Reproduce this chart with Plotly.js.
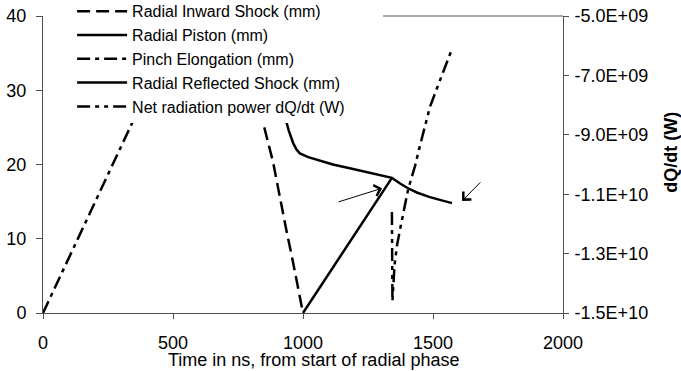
<!DOCTYPE html>
<html>
<head>
<meta charset="utf-8">
<script src="https://cdn.plot.ly/plotly-3.0.1.min.js"></script>
<style>html,body{margin:0;padding:0;background:#fff;}#chart{width:681px;height:371px;}</style>
</head>
<body>
<div id="chart"></div>
<script>
// ---- data ----
const seriesNames = ["Radial Inward Shock (mm)", "Radial Piston (mm)", "Pinch Elongation (mm)", "Radial Reflected Shock (mm)", "Net radiation power dQ/dt (W)"];

const shockT  = [820, 846, 885, 912, 938, 958, 1000];
const shockMm = [30.0, 25.7, 20.3, 15.2, 10.8, 7.5, 0];

const pistonT  = [925, 931, 945, 962, 975, 988, 1020, 1060, 1115, 1180, 1246, 1300, 1342, 1375, 1404, 1440, 1488, 1530, 1573];
const pistonMm = [28.0, 26.4, 24.6, 22.9, 22.0, 21.5, 21.0, 20.6, 20.0, 19.5, 19.0, 18.6, 18.2, 17.4, 16.8, 16.2, 15.6, 15.2, 14.8];

const elongT  = [0, 540];
const elongMm = [0, 40.3];

const reflT  = [1000, 1342];
const reflMm = [0, 18.2];

const radT = [1342, 1344, 1352, 1362, 1373, 1385, 1395, 1404, 1419, 1431, 1446, 1462, 1477, 1488, 1508, 1527, 1554, 1573];
const radW = [-1.16e10, -1.46e10, -1.34e10, -1.27e10, -1.22e10, -1.17e10, -1.12e10, -1.085e10, -1.04e10, -1.005e10, -9.5e9, -8.95e9, -8.45e9, -8.07e9, -7.6e9, -7.16e9, -6.49e9, -6.11e9];

const xTicks = [0, 500, 1000, 1500, 2000];
const yTicks = [0, 10, 20, 30, 40];
const y2Ticks = [-5e9, -7e9, -9e9, -1.1e10, -1.3e10, -1.5e10];
const y2TickText = ["-5.0E+09", "-7.0E+09", "-9.0E+09", "-1.1E+10", "-1.3E+10", "-1.5E+10"];

const FONT = '"Liberation Sans", Arial, sans-serif';
const AX = '#505050';
const LW = 2.5;

const traces = [
  {x: shockT, y: shockMm, name: seriesNames[0], mode: 'lines', line: {color: '#000', width: LW, dash: '13px,6px'}},
  {x: pistonT, y: pistonMm, name: seriesNames[1], mode: 'lines', line: {color: '#000', width: LW}},
  {x: elongT, y: elongMm, name: seriesNames[2], mode: 'lines', line: {color: '#000', width: LW, dash: '13px,5px,4px,5px'}},
  {x: reflT, y: reflMm, name: seriesNames[3], mode: 'lines', line: {color: '#000', width: LW}},
  {x: radT, y: radW, name: seriesNames[4], mode: 'lines', yaxis: 'y2', line: {color: '#000', width: LW, dash: '13px,5px,4px,5px,4px,5px'}}
];

const layout = {
  width: 681, height: 371,
  margin: {l: 43, r: 118, t: 16, b: 58, autoexpand: false},
  paper_bgcolor: '#fff', plot_bgcolor: '#fff',
  font: {family: FONT, size: 18, color: '#000'},
  showlegend: true,
  legend: {
    x: 0.056, y: 1.073, xanchor: 'left', yanchor: 'top',
    bgcolor: '#fff', borderwidth: 0,
    font: {family: FONT, size: 16, color: '#000'},
    itemwidth: 50, tracegroupgap: 0
  },
  xaxis: {
    range: [0, 2000], tickvals: xTicks, ticktext: xTicks.map(String),
    showgrid: false, zeroline: false, showline: true, linecolor: AX, linewidth: 1,
    ticks: 'outside', ticklen: 5, tickcolor: AX, ticklabelstandoff: 8,
    tickfont: {family: FONT, size: 18, color: '#000'}
  },
  yaxis: {
    range: [0, 40], tickvals: yTicks, ticktext: yTicks.map(String),
    showgrid: false, zeroline: false, showline: true, linecolor: AX, linewidth: 1,
    ticks: 'outside', ticklen: 6, tickcolor: AX, ticklabelstandoff: 6,
    tickfont: {family: FONT, size: 18, color: '#000'}
  },
  yaxis2: {
    overlaying: 'y', side: 'right', anchor: 'x',
    range: [-1.5e10, -5e9], tickvals: y2Ticks, ticktext: y2TickText,
    showgrid: false, zeroline: false, showline: true, linecolor: AX, linewidth: 1,
    ticks: 'outside', ticklen: 5, tickcolor: AX, ticklabelstandoff: 2,
    tickfont: {family: FONT, size: 18, color: '#000'}
  },
  shapes: [
    {type: 'line', xref: 'paper', yref: 'paper', x0: 0.654, x1: 1, y0: 1, y1: 1, line: {color: AX, width: 1}}
  ],
  annotations: [
    {xref: 'paper', yref: 'paper', x: 0.521, y: -0.158, xanchor: 'center', yanchor: 'middle', showarrow: false,
     text: 'Time in ns, from start of radial phase', font: {family: FONT, size: 18, color: '#000'}},
    {xref: 'paper', yref: 'paper', x: 1.207, y: 0.542, xanchor: 'center', yanchor: 'middle', showarrow: false, textangle: -90,
     text: '<b>dQ/dt (W)</b>', font: {family: FONT, size: 18, color: '#000'}},
    {x: 1304, y: 16.8, ax: 1131, ay: 14.9, axref: 'x', ayref: 'y', xref: 'x', yref: 'y', text: '', showarrow: true,
     arrowhead: 4, arrowsize: 2.2, arrowwidth: 1, arrowcolor: '#000'},
    {x: 1612, y: 15.1, ax: 1688, ay: 17.8, axref: 'x', ayref: 'y', xref: 'x', yref: 'y', text: '', showarrow: true,
     arrowhead: 4, arrowsize: 2.2, arrowwidth: 1, arrowcolor: '#000'}
  ]
};

Plotly.newPlot('chart', traces, layout, {displayModeBar: false, staticPlot: true});
</script>
</body>
</html>
